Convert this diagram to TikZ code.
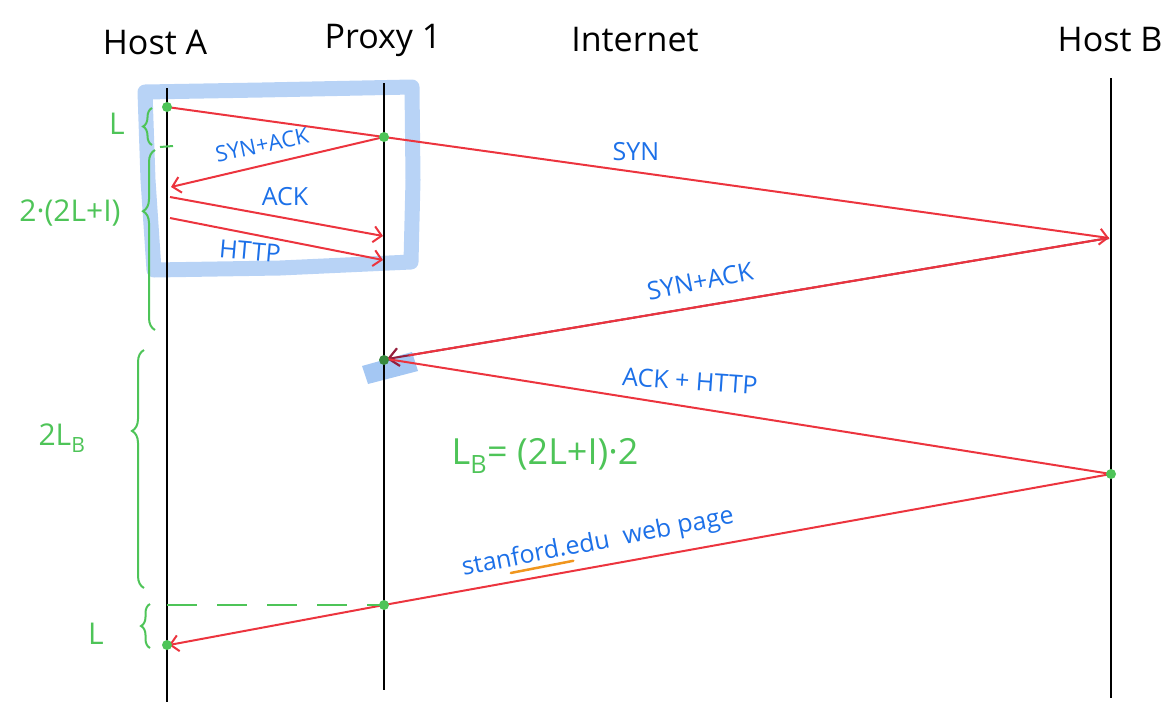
\documentclass[tikz,border=0pt]{standalone}
\usepackage{fontspec}
\setmainfont{Open Sans}
\usetikzlibrary{arrows.meta,decorations.pathreplacing,calc}

\definecolor{msgred}{RGB}{236,52,62}
\definecolor{tipred}{RGB}{150,30,60}
\definecolor{inkblue}{RGB}{28,112,232}
\definecolor{inkgreen}{RGB}{78,196,88}
\definecolor{marker}{RGB}{125,175,238}
\definecolor{hlorange}{RGB}{240,150,30}

\tikzset{
  lifeline/.style={line width=2pt, black},
  header/.style={font=\fontsize{34}{34}\selectfont, black, inner sep=0pt},
  msg/.style={line width=2pt, msgred},
  msgarrow/.style={msg, -{Straight Barb[length=8pt,width=16pt,line width=2pt]}},
  msglabel/.style={font=\fontsize{25}{25}\selectfont, inkblue, inner sep=0pt},
  notelabel/.style={font=\fontsize{30}{30}\selectfont, inkgreen, inner sep=0pt},
  dot/.style={circle, fill=inkgreen, inner sep=0pt, minimum size=10pt},
  span/.style={inkgreen, line width=2pt, decorate,
    decoration={brace, amplitude=12pt}},
  highlight/.style={marker, opacity=0.55, line width=15pt, line join=round, line cap=round}
}

\begin{document}
\begin{tikzpicture}[x=1pt, y=-1pt]
\useasboundingbox (0,0) rectangle (1172,702);

% column headers
\node[header] (hA) at (155,42) {Host A};
\node[header] (hP) at (383,40) {Proxy 1};
\node[header] (hI) at (635,40) {Internet};
\node[header] (hB) at (1110,40) {Host B};

% lifeline ends
\coordinate (aTop) at (167,88);  \coordinate (aBot) at (167,702);
\coordinate (pTop) at (384,83);  \coordinate (pBot) at (384,690);
\coordinate (bTop) at (1111,78); \coordinate (bBot) at (1111,698);

% marker highlight around the local handshake
\draw[highlight] (145,92) -- (262,90) -- (412,87) -- (413,180) -- (411,262)
  -- (280,268) -- (154,270) -- (148,180) -- cycle;
\fill[marker, opacity=0.7] (362,366) -- (412,352) -- (418,371) -- (368,384) -- cycle;

\draw[lifeline] (aTop) -- (aBot);
\draw[lifeline] (pTop) -- (pBot);
\draw[lifeline] (bTop) -- (bBot);

% message end points
\coordinate (a1) at (167,107);
\coordinate (p1) at (384,137);
\coordinate (b1) at (1109,238);
\coordinate (a2) at (171,187);
\coordinate (a3) at (170,197);
\coordinate (p2) at (383,236);
\coordinate (a4) at (170,218);
\coordinate (p3) at (383,260);
\coordinate (p4) at (387,359);
\coordinate (b2) at (1111,474);
\coordinate (p5) at (384,605);
\coordinate (a5) at (169,645);
\coordinate (a6) at (167,605);

% messages
\draw[msg] (a1) -- (p1);
\draw[msgarrow] (p1) -- (b1);
\draw[msgarrow] (p1) -- (a2);
\draw[msgarrow] (a3) -- (p2);
\draw[msgarrow] (a4) -- (p3);
\draw[msg, -{Straight Barb[length=10pt,width=18pt,line width=2.2pt]}, tipred] (b1) -- (p4);
\draw[msg] (b1) -- ($(b1)!0.97!(p4)$);
\draw[msg] (p4) -- (b2);
\draw[msg] (b2) -- (p5);
\draw[msgarrow] (p5) -- (a5);
\draw[inkgreen, line width=2pt, dash pattern=on 30pt off 20pt] (a6) -- (p5);

% event dots
\node[dot] (d1) at (a1) {};
\node[dot] (d2) at (p1) {};
\node[dot, fill=inkgreen!70!black] (d3) at (384,360) {};
\node[dot] (d4) at (b2) {};
\node[dot] (d5) at (p5) {};
\node[dot] (d6) at (167,645) {};

% message labels
\node[msglabel, rotate=12, font=\fontsize{22}{22}\selectfont] (lSynAck1) at (262,145) {SYN+ACK};
\node[msglabel] (lAck) at (285,197) {ACK};
\node[msglabel, rotate=-5] (lHttp) at (250,251) {HTTP};
\node[msglabel] (lSyn) at (636,152) {SYN};
\node[msglabel, rotate=11] (lSynAck2) at (700,281) {SYN+ACK};
\node[msglabel, rotate=-4] (lAckHttp) at (690,381) {ACK + HTTP};
\node[msglabel, rotate=11] (lPage) at (598,543) {stanford.edu\hspace{14pt}web page};

% orange underline beneath the domain name
\draw[hlorange, line width=2.5pt, line cap=round]
  ($(lPage.south west)!0.17!(lPage.south east)$) -- ($(lPage.south west)!0.40!(lPage.south east)$);

% timing braces
\draw[span, decoration={amplitude=9pt}] (152,145) -- (152,108);
\draw[inkgreen, line width=2pt] (160,147) -- (173,146);
\draw[span, decoration={aspect=0.66}] (155,330) -- (155,150);
\draw[span, decoration={aspect=0.66}] (144,588) -- (144,350);
\draw[span, decoration={amplitude=9pt}] (150,648) -- (150,604);

\node[notelabel] (nL1) at (117,124) {L};
\node[notelabel] (nRtt) at (70,213) {2·(2L+I)};
\node[notelabel] (nLb) at (62,438) {2L\textsubscript{B}};
\node[notelabel] (nL2) at (96,634) {L};
\node[notelabel, font=\fontsize{36}{36}\selectfont] (nEq) at (545,456) {L\textsubscript{B}= (2L+I)·2};
\end{tikzpicture}
\end{document}
